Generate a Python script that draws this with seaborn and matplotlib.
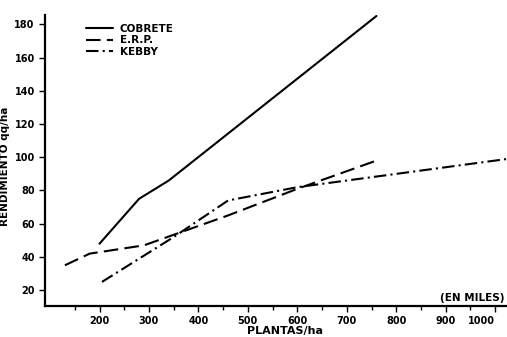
import pandas as pd
import matplotlib.pyplot as plt
import seaborn as sns

# Values (plantas/ha in thousands, rendimiento qq/ha)
cobrete_x = [200, 280, 340, 760]
cobrete_y = [48, 75, 86, 185]
erp_x = [130, 180, 290, 460, 600, 760]
erp_y = [35, 42, 47, 65, 81, 98]
kebby_x = [205, 350, 460, 600, 1025]
kebby_y = [25, 52, 74, 82, 99]

x_ticks = [200, 300, 400, 500, 600, 700, 800, 900, 1000]
y_ticks = [20, 40, 60, 80, 100, 120, 140, 160, 180]

df = pd.concat([
    pd.DataFrame({'plantas': cobrete_x, 'rend': cobrete_y, 'var': 'COBRETE'}),
    pd.DataFrame({'plantas': erp_x, 'rend': erp_y, 'var': 'E.R.P.'}),
    pd.DataFrame({'plantas': kebby_x, 'rend': kebby_y, 'var': 'KEBBY'}),
])

sns.set_style('ticks')
plt.rcParams['font.family'] = ['DejaVu Sans']
plt.rcParams['text.color'] = 'black'
plt.rcParams['axes.labelcolor'] = 'black'
plt.rcParams['xtick.color'] = 'black'
plt.rcParams['ytick.color'] = 'black'

fig = plt.figure(figsize=(5.07, 3.37), dpi=100)
ax = fig.add_axes([0.089, 0.092, 0.911, 0.863])

dashes = {'COBRETE': '', 'E.R.P.': (7, 3), 'KEBBY': (6, 2, 1, 2)}
sns.lineplot(data=df, x='plantas', y='rend', style='var', dashes=dashes,
             color='black', linewidth=1.5, sort=False, ax=ax, legend=True)

ax.set_xlim(90, 1024)
ax.set_ylim(10.5, 185.5)
ax.set_xticks(x_ticks)
ax.set_xticks(list(range(150, 1000, 100)), minor=True)
ax.set_yticks(y_ticks)
ax.tick_params(axis='both', labelsize=7, length=4, width=1, color='black')
ax.tick_params(axis='x', which='minor', length=3, width=1)
for lab in ax.get_xticklabels() + ax.get_yticklabels():
    lab.set_fontweight('bold')
ax.get_xticklabels()[-1].set_horizontalalignment('right')
ax.get_xticklabels()[-1].set_x(1012)

sns.despine(ax=ax)
ax.spines['left'].set_linewidth(1.6)
ax.spines['bottom'].set_linewidth(1.6)
ax.spines['left'].set_color('black')
ax.spines['bottom'].set_color('black')

ax.set_xlabel('PLANTAS/ha', fontsize=8, fontweight='bold', labelpad=2)
ax.xaxis.set_label_coords(0.52, -0.07)
ax.set_ylabel('RENDIMIENTO qq/ha', fontsize=7.5, fontweight='bold', labelpad=2)
ax.yaxis.set_label_coords(-0.075, 0.48)

ax.text(0.995, 0.01, '(EN MILES)', transform=ax.transAxes, ha='right', va='bottom',
        fontsize=7.5, fontweight='bold')

leg = ax.legend(loc='upper left', bbox_to_anchor=(0.08, 0.985), frameon=False,
                fontsize=7.5, handlelength=2.6, labelspacing=0.15, title=None,
                borderaxespad=0, handletextpad=0.6)
for t in leg.get_texts():
    t.set_fontweight('bold')

fig.savefig('out.png', dpi=100)
